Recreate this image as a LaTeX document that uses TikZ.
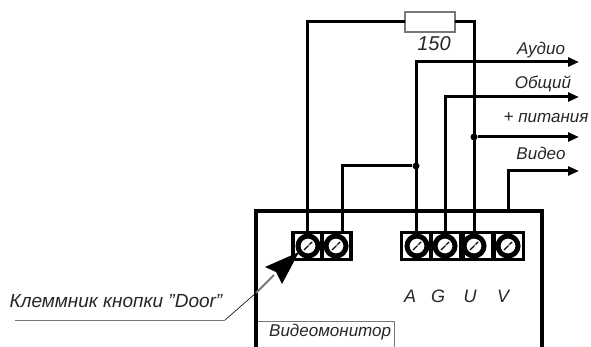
\documentclass[tikz,border=0pt]{standalone}
\usepackage{fontspec}
\setmainfont{Liberation Sans}
\usetikzlibrary{arrows.meta}
\definecolor{gline}{RGB}{120,120,120}
\tikzset{
  x=1pt,y=-1pt,
  wire/.style={line width=3pt,black},
  outwire/.style={wire,-{Triangle[length=11pt,width=9pt]},shorten >=-1pt},
  lbl/.style={font=\itshape\fontsize{17}{19}\selectfont,inner sep=0pt,text=black!85},
  pin/.style={lbl,font=\itshape\fontsize{18}{20}\selectfont},
  cell/.style={draw=black,line width=3.6pt,fill=white,minimum width=29pt,minimum height=27pt,inner sep=0pt,outer sep=0pt},
  screw/.style={draw=black,line width=5pt,circle,minimum size=20pt,inner sep=0pt,fill=white},
  dotn/.style={circle,fill=black,minimum size=7pt,inner sep=0pt},
  res/.style={draw=gline,line width=1.2pt,fill=white,minimum width=50pt,minimum height=20pt,inner sep=0pt,outer sep=0pt},
}
\newcommand{\termcell}[4]{%
  \node[cell] (#1) at (#2,246) {};
  \node[screw] (#3) at (#4,246) {};
  \draw[line width=1.4pt,black] ([xshift=-4pt,yshift=-4pt]#3.center) -- ([xshift=4pt,yshift=4pt]#3.center);
  \draw[line width=.9pt,white] ([xshift=-3pt,yshift=-1pt]#3.center) arc[start angle=160,end angle=20,radius=3.4pt];
}
\begin{document}
\begin{tikzpicture}
\useasboundingbox (0,0) rectangle (591,347);
% monitor body
\coordinate (bl) at (256,347);
\coordinate (tl) at (256,211);
\coordinate (tr) at (542,211);
\coordinate (br) at (542,347);
\draw[line width=3.8pt,line join=miter] (bl) -- (tl) -- (tr) -- (br);
% title box
\coordinate (nl) at (258,321);
\coordinate (nc) at (394,321);
\coordinate (nb) at (394,347);
\draw[gline,line width=1pt] (nl) -- (nc) -- (nb);
\node[lbl,anchor=west] (title) at (269,332) {Видеомонитор};
% terminals
\termcell{c1}{307.5}{s1}{308}
\termcell{c2}{336.5}{s2}{336}
\termcell{c3}{416}{s3}{417}
\termcell{c4}{446}{s4}{445}
\termcell{c5}{478}{s5}{474}
\termcell{c6}{509}{s6}{508}
% resistor
\node[res] (r) at (430,22) {};
\node[lbl,font=\itshape\fontsize{20}{22}\selectfont] (rv) at (434,44) {150};
% wires
\coordinate (j1) at (416,166);
\coordinate (a1) at (578,62);
\coordinate (a2) at (578,97);
\coordinate (a3) at (578,137);
\coordinate (a4) at (578,171);
\coordinate (c1t) at (307,231);
\coordinate (c2t) at (342,231);
\coordinate (c3t) at (416,231);
\coordinate (c4t) at (445,231);
\coordinate (c5t) at (474,231);
\coordinate (c6t) at (508,211);
\draw[wire] (c1t) |- (r.west);
\draw[wire] (r.east) -| (c5t);
\draw[outwire] (c3t) |- (a1);
\draw[outwire] (c4t) |- (a2);
\node[dotn] (d2) at (474,137) {};
\draw[outwire] (d2) -- (a3);
\draw[outwire] (c6t) |- (a4);
\node[dotn] (d1) at (j1) {};
\draw[wire] (c2t) |- (d1);
% output labels
\node[lbl] (l1) at (541,50) {Аудио};
\node[lbl] (l2) at (543,84) {Общий};
\node[lbl] (l3) at (546,118) {+ питания};
\node[lbl] (l4) at (541,153) {Видео};
% pin names
\node[pin] (pa) at (410,296) {A};
\node[pin] (pg) at (438,296) {G};
\node[pin] (pu) at (470,296) {U};
\node[pin] (pv) at (503,296) {V};
% callout
\node[lbl,font=\itshape\fontsize{19}{21}\selectfont] (door) at (116,301) {Клеммник кнопки "Door"};
\coordinate (u0) at (15,320);
\coordinate (u1) at (225,320);
\coordinate (u2) at (256,293);
\coordinate (u3) at (274,275);
\draw[gline,line width=1pt] (u0) -- (u1);
\draw[black,line width=.6pt] (u1) -- (u2);
\draw[gline,line width=2pt] (u2) -- (u3);
\fill[black] (299,252) -- (265,267) -- (276,272) -- (282,284) -- cycle;
\end{tikzpicture}
\end{document}
